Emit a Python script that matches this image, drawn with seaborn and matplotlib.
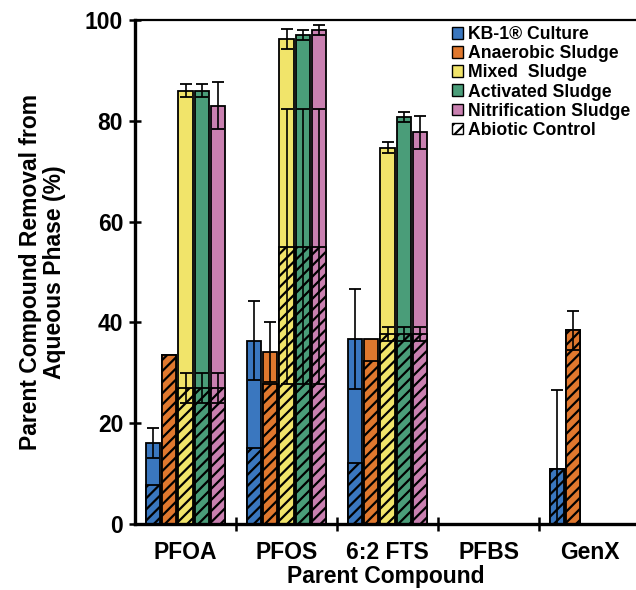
import pandas as pd
import seaborn as sns
import matplotlib.pyplot as plt
from matplotlib.patches import Patch

# data
compounds = ["PFOA", "PFOS", "6:2 FTS", "PFBS", "GenX"]
cultures = ["KB-1\u00ae Culture", "Anaerobic Sludge", "Mixed  Sludge",
            "Activated Sludge", "Nitrification Sludge"]

total_kb1 = [16.0, 36.4, 36.7, 0, 10.9]
total_anaerobic = [33.5, 34.1, 36.7, 0, 38.4]
total_mixed = [86.0, 96.2, 74.7, 0, 0]
total_activated = [86.0, 97.0, 80.8, 0, 0]
total_nitrif = [83.0, 98.0, 77.7, 0, 0]

err_kb1 = [3.0, 7.9, 10.0, 0, 0]
err_anaerobic = [0, 6.0, 0, 0, 0]
err_mixed = [1.3, 2.0, 1.0, 0, 0]
err_activated = [1.3, 1.0, 1.0, 0, 0]
err_nitrif = [4.6, 1.0, 3.2, 0, 0]

abiotic_kb1 = [7.7, 15.0, 12.2, 0, 10.9]
abiotic_anaerobic = [33.5, 27.8, 32.4, 0, 38.4]
abiotic_mixed = [27.0, 55.0, 37.7, 0, 0]
abiotic_activated = [27.0, 55.0, 37.7, 0, 0]
abiotic_nitrif = [27.0, 55.0, 37.7, 0, 0]

abiotic_err_kb1 = [0, 0, 0, 0, 15.6]
abiotic_err_anaerobic = [0, 0, 0, 0, 3.9]
abiotic_err_mixed = [3.0, 27.3, 1.3, 0, 0]
abiotic_err_activated = [3.0, 27.3, 1.3, 0, 0]
abiotic_err_nitrif = [3.0, 27.3, 1.3, 0, 0]

colors = ["#3a77bf", "#e0782e", "#f1e46a", "#4a9d79", "#c980b0"]

totals = [total_kb1, total_anaerobic, total_mixed, total_activated, total_nitrif]
errs = [err_kb1, err_anaerobic, err_mixed, err_activated, err_nitrif]
abiotics = [abiotic_kb1, abiotic_anaerobic, abiotic_mixed, abiotic_activated, abiotic_nitrif]
abiotic_errs = [abiotic_err_kb1, abiotic_err_anaerobic, abiotic_err_mixed,
                abiotic_err_activated, abiotic_err_nitrif]

rows = []
for c, tot, ab in zip(cultures, totals, abiotics):
    for comp, t, a in zip(compounds, tot, ab):
        rows.append({"compound": comp, "culture": c, "total": t, "abiotic": a})
df = pd.DataFrame(rows)

sns.set_style("ticks")
plt.rcParams['font.family'] = ['Liberation Sans', 'DejaVu Sans']
plt.rcParams['font.weight'] = 'bold'
plt.rcParams['hatch.linewidth'] = 1.6
plt.rcParams['text.color'] = 'black'
plt.rcParams['axes.labelcolor'] = 'black'
plt.rcParams['xtick.color'] = 'black'
plt.rcParams['ytick.color'] = 'black'
plt.rcParams['axes.edgecolor'] = 'black'

fig = plt.figure(figsize=(6.36, 5.9), dpi=100)
ax = fig.add_axes([135 / 636, 66 / 590, 501 / 636, 504 / 590])

common = dict(x="compound", hue="culture", order=compounds, hue_order=cultures,
              palette=colors, saturation=1, errorbar=None, gap=0.12,
              edgecolor="black", linewidth=1.3, legend=False, ax=ax)

n0 = len(ax.containers)
sns.barplot(data=df, y="total", **common)
total_conts = ax.containers[n0:]
n1 = len(ax.containers)
sns.barplot(data=df, y="abiotic", hatch="///", **common)
abiotic_conts = ax.containers[n1:]

# error bars + hide empty bars
for conts, err_sets in [(total_conts, errs), (abiotic_conts, abiotic_errs)]:
    for cont, e in zip(conts, err_sets):
        for bar, ev in zip(cont.patches, e):
            if bar.get_height() == 0:
                bar.set_linewidth(0)
            if ev > 0:
                ax.errorbar(bar.get_x() + bar.get_width() / 2, bar.get_height(), yerr=ev,
                            color="black", lw=1.2, capsize=4, capthick=1.3, zorder=5)

ax.set_ylim(0, 100)
ax.set_xlim(-0.5, 4.46)
ax.set_yticks([0, 20, 40, 60, 80, 100])
ax.tick_params(axis="y", direction="inout", length=9, width=1.8, labelsize=16.5, pad=4)
ax.set_xticks(range(len(compounds)))
ax.set_xticklabels(compounds)
ax.tick_params(axis="x", which="major", length=0, labelsize=16.5, pad=12)
ax.set_xticks([i - 0.5 for i in range(1, len(compounds))], minor=True)
ax.tick_params(axis="x", which="minor", direction="inout", length=10, width=1.8)
for lab in ax.get_xticklabels() + ax.get_yticklabels():
    lab.set_fontweight("bold")

ax.spines["right"].set_visible(False)
ax.spines["left"].set_linewidth(2.4)
ax.spines["bottom"].set_linewidth(2.4)
ax.spines["top"].set_linewidth(1.6)

ax.set_xlabel("Parent Compound", fontsize=16.5, fontweight="bold", labelpad=1)
ax.set_ylabel("Parent Compound Removal from\nAqueous Phase (%)", fontsize=16.5,
              fontweight="bold", labelpad=14, linespacing=1.0)

handles = [Patch(facecolor=col, edgecolor="black", linewidth=1.0, label=lab)
           for col, lab in zip(colors, cultures)]
handles.append(Patch(facecolor="white", edgecolor="black", linewidth=1.0,
                     hatch="///", label="Abiotic Control"))
ax.legend(handles=handles, loc="upper right", frameon=False,
          handlelength=0.65, handleheight=0.65, handletextpad=0.25,
          labelspacing=0.12, borderaxespad=0.05, borderpad=0.3,
          prop={"weight": "bold", "size": 12.7})

plt.savefig("out.png", dpi=100)
plt.close()
